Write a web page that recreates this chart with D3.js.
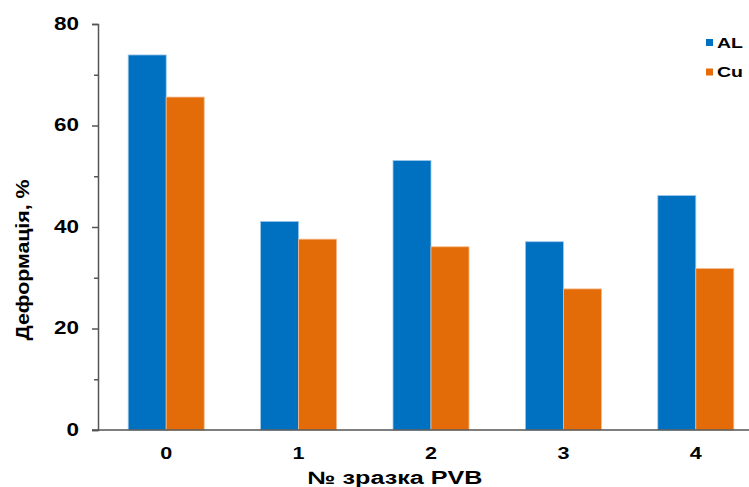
<!DOCTYPE html>
<html><head><meta charset="utf-8">
<script src="https://cdn.jsdelivr.net/npm/d3@7"></script>
<style>body{margin:0;background:#fff}svg{display:block}text{font-family:"Liberation Sans",Arial,sans-serif;font-weight:bold;fill:#000}</style>
</head><body>
<svg id="c" width="749" height="487"></svg>
<script>
const categories = ["0","1","2","3","4"];
const seriesNames = ["AL","Cu"];
const alValues = [73.9, 41.1, 53.1, 37.1, 46.2];
const cuValues = [65.6, 37.6, 36.1, 27.8, 31.8];
const yTicks = [0,20,40,60,80];
const yMinorTicks = [10,30,50,70];
const colors = ["#0070C0","#E36C09"];

(function(){
const svg = d3.select("#c");
const mLeft = 98, mBottom = 430, mTop = 24, mRight = 762;
const x = d3.scaleBand().domain(categories).range([mLeft + 2, mRight]);
const y = d3.scaleLinear().domain([0,80]).range([mBottom, mTop]);
const barW = 38;
const series = [alValues, cuValues];

series.forEach((vals, si) => {
  svg.append("g").selectAll("rect").data(vals).join("rect")
    .attr("x", (d,i) => x(categories[i]) + x.bandwidth()/2 - barW + si*barW)
    .attr("y", d => y(d))
    .attr("width", barW)
    .attr("height", d => mBottom - y(d))
    .attr("fill", colors[si])
    .attr("stroke", si === 0 ? "#9cc8ea" : "#f3b98a")
    .attr("stroke-width", 0.8);
});

const axisColor = "#555";
const yAxis = svg.append("g").attr("transform", `translate(${mLeft},0)`)
  .call(d3.axisLeft(y).tickValues(yTicks).tickSize(6).tickPadding(13));
yAxis.select(".domain").attr("stroke", axisColor).attr("stroke-width", 1.5);
yAxis.selectAll(".tick line").attr("stroke", axisColor).attr("stroke-width", 1.5);
yAxis.selectAll(".tick text").attr("font-size", 18).attr("fill", "#000")
  .attr("dy", "0.28em")
  .attr("textLength", d => String(d).length * 12.5).attr("lengthAdjust", "spacingAndGlyphs");
const yMinor = svg.append("g").attr("transform", `translate(${mLeft},0)`)
  .call(d3.axisLeft(y).tickValues(yMinorTicks).tickSize(4).tickFormat(""));
yMinor.select(".domain").remove();
yMinor.selectAll(".tick line").attr("stroke", axisColor).attr("stroke-width", 1.5);

const xAxis = svg.append("g").attr("transform", `translate(0,${mBottom})`)
  .call(d3.axisBottom(x).tickSize(0).tickPadding(17));
xAxis.select(".domain").attr("stroke", axisColor).attr("stroke-width", 1.5)
  .attr("d", `M${mLeft-6},0H${mRight}`);
xAxis.selectAll(".tick text").attr("font-size", 16.5).attr("fill", "#000")
  .attr("textLength", 12).attr("lengthAdjust", "spacingAndGlyphs");

svg.append("text").attr("x", 395).attr("y", 484).attr("text-anchor", "middle")
  .attr("font-size", 18).attr("textLength", 175).attr("lengthAdjust", "spacingAndGlyphs")
  .text("№ зразка PVB");
svg.append("text").attr("transform", "translate(29,260) rotate(-90)")
  .attr("text-anchor", "middle").attr("font-size", 19)
  .attr("textLength", 161).attr("lengthAdjust", "spacingAndGlyphs")
  .text("Деформація, %");

seriesNames.forEach((n, i) => {
  const ly = 42.5 + i*29.5;
  svg.append("rect").attr("x", 706).attr("y", ly-3.5).attr("width", 7).attr("height", 7).attr("fill", colors[i]);
  svg.append("text").attr("x", 717).attr("y", ly+5).attr("font-size", 14)
    .attr("textLength", 26).attr("lengthAdjust", "spacingAndGlyphs").text(n);
});
})();
</script>
</body></html>
